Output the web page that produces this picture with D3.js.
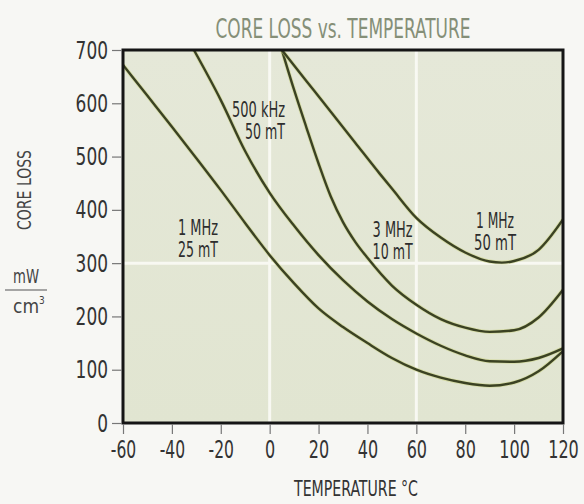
<!DOCTYPE html>
<html>
<head>
<meta charset="utf-8">
<script src="https://cdn.jsdelivr.net/npm/d3@7"></script>
<style>
  html, body { margin: 0; padding: 0; background: #f7f7f4; }
  svg { display: block; }
  text { font-family: "Liberation Sans Narrow", "Arial Narrow", "DejaVu Sans Condensed", sans-serif; }
</style>
</head>
<body>
<svg id="chart" width="584" height="504"></svg>
<script>
// Core loss (mW/cm³) versus temperature (°C) for four drive conditions
const xTicks = [-60, -40, -20, 0, 20, 40, 60, 80, 100, 120];
const yTicks = [0, 100, 200, 300, 400, 500, 600, 700];

const temp1MHz25 = [-60, -50, -40, -30, -20, -10, 0, 10, 20, 30, 40, 50, 60, 70, 80, 90, 100, 110, 120];
const loss1MHz25 = [672, 614, 556, 497, 437, 375, 315, 262, 215, 180, 150, 122, 100, 85, 75, 70, 76, 97, 135];

const temp500k50 = [-31, -20, -10, 0, 10, 20, 30, 40, 50, 60, 70, 80, 90, 100, 110, 120];
const loss500k50 = [700, 606, 510, 432, 370, 315, 268, 228, 195, 168, 145, 127, 116, 115, 122, 140];

const temp3MHz10 = [5, 10, 15, 20, 25, 30, 35, 40, 50, 60, 70, 80, 90, 100, 110, 120];
const loss3MHz10 = [700, 625, 555, 487, 425, 377, 340, 310, 258, 222, 195, 179, 171, 174, 198, 250];

const temp1MHz50 = [5, 15, 25, 35, 45, 50, 60, 70, 80, 90, 95, 100, 110, 120];
const loss1MHz50 = [700, 642, 584, 526, 468, 440, 385, 348, 320, 303, 301, 304, 325, 382];

const curveLabels = [
  ["500 kHz", "50 mT"],
  ["1 MHz", "25 mT"],
  ["3 MHz", "10 mT"],
  ["1 MHz", "50 mT"]
];

const svg = d3.select("#chart");
const plotLeft = 123, plotRight = 563, plotTop = 50, plotBottom = 423;

const x = d3.scaleLinear().domain([-60, 120]).range([plotLeft, plotRight]);
const y = d3.scaleLinear().domain([0, 700]).range([plotBottom, plotTop]);

// squeeze text horizontally to a target width
function fit(sel, w) {
  sel.attr("textLength", w).attr("lengthAdjust", "spacingAndGlyphs");
  return sel;
}

const defs = svg.append("defs");

// plot background
const bg = defs.append("linearGradient")
  .attr("id", "plotbg").attr("x1", 0).attr("y1", 0).attr("x2", 0).attr("y2", 1);
bg.append("stop").attr("offset", "0%").attr("stop-color", "#e5e8d8");
bg.append("stop").attr("offset", "100%").attr("stop-color", "#e1e5d1");

svg.append("rect")
  .attr("x", plotLeft).attr("y", plotTop)
  .attr("width", plotRight - plotLeft).attr("height", plotBottom - plotTop)
  .attr("fill", "url(#plotbg)");

defs.append("clipPath").attr("id", "plotclip")
  .append("rect")
  .attr("x", plotLeft).attr("y", plotTop)
  .attr("width", plotRight - plotLeft).attr("height", plotBottom - plotTop);

// white grid lines
const grid = svg.append("g").attr("stroke", "#fbfbf6").attr("stroke-width", 3).attr("opacity", 0.9);
[0, 60].forEach(t => grid.append("line")
  .attr("x1", x(t)).attr("x2", x(t)).attr("y1", plotTop).attr("y2", plotBottom));
[300].forEach(v => grid.append("line")
  .attr("x1", plotLeft).attr("x2", plotRight).attr("y1", y(v)).attr("y2", y(v)));

// curves
const line = d3.line()
  .x(d => x(d[0])).y(d => y(d[1]))
  .curve(d3.curveMonotoneX);

const series = [
  [temp1MHz25, loss1MHz25],
  [temp500k50, loss500k50],
  [temp3MHz10, loss3MHz10],
  [temp1MHz50, loss1MHz50]
];

const curves = svg.append("g").attr("clip-path", "url(#plotclip)");
series.forEach(([t, v]) => {
  const pts = t.map((d, i) => [d, v[i]]);
  curves.append("path").attr("d", line(pts))
    .attr("fill", "none").attr("stroke", "#c9d27a").attr("stroke-width", 4).attr("opacity", 0.5);
  curves.append("path").attr("d", line(pts))
    .attr("fill", "none").attr("stroke", "#3b4223").attr("stroke-width", 2.4);
});

// frame
svg.append("rect")
  .attr("x", plotLeft).attr("y", plotTop)
  .attr("width", plotRight - plotLeft).attr("height", plotBottom - plotTop)
  .attr("fill", "none").attr("stroke", "#151515").attr("stroke-width", 3);

// axes
const yAxis = svg.append("g").attr("transform", `translate(${plotLeft - 1},0)`)
  .call(d3.axisLeft(y).tickValues(yTicks).tickSize(10).tickPadding(4).tickFormat(d3.format("d")));
const xAxis = svg.append("g").attr("transform", `translate(0,${plotBottom + 1})`)
  .call(d3.axisBottom(x).tickValues(xTicks).tickSize(10).tickPadding(3).tickFormat(d => String(d)));

[yAxis, xAxis].forEach(a => {
  a.select(".domain").remove();
  a.selectAll(".tick line").attr("stroke", "#777").attr("stroke-width", 1.2);
  a.selectAll(".tick text").attr("fill", "#333").attr("font-size", 25)
    .attr("font-family", "\"Liberation Sans Narrow\", \"Arial Narrow\", \"DejaVu Sans Condensed\", sans-serif");
});
yAxis.selectAll(".tick text").each(function(d) {
  fit(d3.select(this), String(d).length * 10.8);
});
// x labels sit at x=0 inside each tick group, so a horizontal scale narrows them in place
xAxis.selectAll(".tick text").attr("dy", "0.86em").each(function(d) {
  const s = String(d);
  const w = s.replace("-", "").length * 10.2 + (s.startsWith("-") ? 5 : 0);
  const natural = this.getComputedTextLength();
  d3.select(this).attr("transform", `scale(${w / natural},1)`);
});

// title
fit(svg.append("text")
  .attr("x", (plotLeft + plotRight) / 2).attr("y", 38)
  .attr("text-anchor", "middle").attr("font-size", 27).attr("fill", "#858f78")
  .text("CORE LOSS vs. TEMPERATURE"), 255);

// x axis title
fit(svg.append("text")
  .attr("x", 356).attr("y", 496)
  .attr("text-anchor", "middle").attr("font-size", 22).attr("fill", "#333")
  .text("TEMPERATURE °C"), 124);

// y axis title with unit fraction
fit(svg.append("text")
  .attr("transform", "translate(31,190) rotate(-90)")
  .attr("text-anchor", "middle").attr("font-size", 20).attr("fill", "#444")
  .text("CORE LOSS"), 80);
fit(svg.append("text")
  .attr("x", 26).attr("y", 283)
  .attr("text-anchor", "middle").attr("font-size", 19).attr("fill", "#444")
  .text("mW"), 26);
svg.append("line")
  .attr("x1", 5).attr("x2", 47).attr("y1", 290).attr("y2", 290)
  .attr("stroke", "#555").attr("stroke-width", 1.2);
const cm = svg.append("text")
  .attr("x", 13).attr("y", 313)
  .attr("font-size", 19).attr("fill", "#444");
cm.append("tspan").text("cm");
cm.append("tspan").attr("font-size", 10).attr("dy", -9).text("3");

// curve annotations
const labelSpots = [
  { t: 6.3, v: 574, anchor: "end", w: [53, 40] },
  { t: -29.3, v: 353, anchor: "middle", w: [40, 40] },
  { t: 50.3, v: 349, anchor: "middle", w: [40, 40] },
  { t: 92.2, v: 366, anchor: "middle", w: [38, 42] }
];
labelSpots.forEach((s, i) => {
  curveLabels[i].forEach((txt, j) => {
    fit(svg.append("text")
      .attr("x", x(s.t)).attr("y", y(s.v) + j * 22)
      .attr("text-anchor", s.anchor).attr("font-size", 21).attr("fill", "#2d2d2d")
      .text(txt), s.w[j]);
  });
});
</script>
</body>
</html>
